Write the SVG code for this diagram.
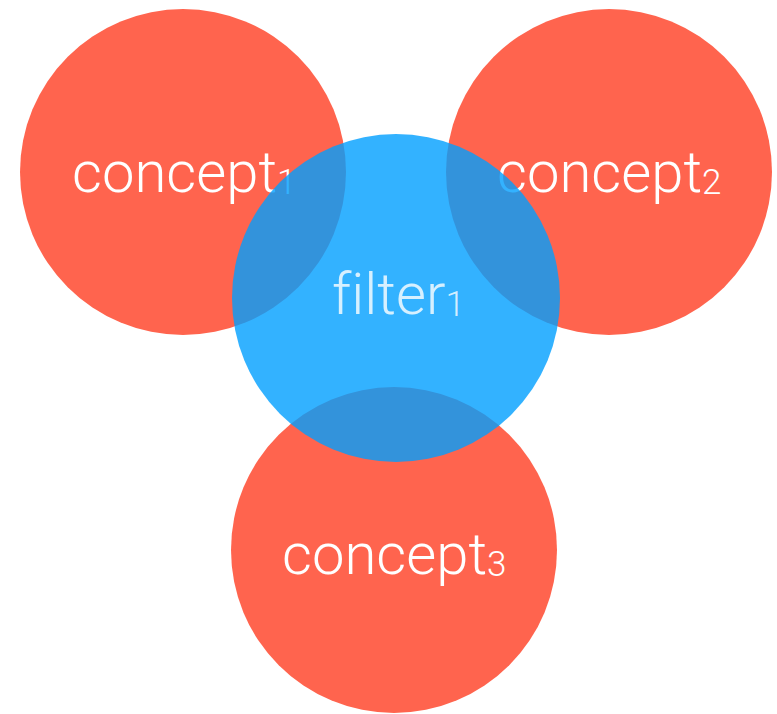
<svg xmlns="http://www.w3.org/2000/svg" width="777" height="714" viewBox="0 0 777 714">
<style>
.concept{fill:#FF644E}
.filter{fill:#009FFF;fill-opacity:0.8}
.lbl{font-family:Roboto,"Liberation Sans",sans-serif;font-weight:300;font-size:58px;fill:#FFFFFF;font-variant-ligatures:none;font-feature-settings:"liga" 0}
.flbl{fill-opacity:0.8}
.sub{font-size:35px}
</style>
<rect width="777" height="714" fill="#FFFFFF"/>
<g id="connectors"/>
<g id="concept1">
<circle class="concept" cx="183" cy="172" r="163"/>
<text class="lbl" x="72" y="192">concept<tspan class="sub" dy="2">1</tspan></text>
</g>
<g id="concept2">
<circle class="concept" cx="609" cy="172" r="163"/>
<text class="lbl" x="497" y="192">concept<tspan class="sub" dy="2">2</tspan></text>
</g>
<g id="concept3">
<circle class="concept" cx="394" cy="550" r="163"/>
<text class="lbl" x="282" y="574">concept<tspan class="sub" dy="2">3</tspan></text>
</g>
<g id="filter1">
<circle class="filter" cx="396" cy="298" r="164"/>
<text class="lbl flbl" x="332" y="314">filter<tspan class="sub" dy="2">1</tspan></text>
</g>
</svg>
